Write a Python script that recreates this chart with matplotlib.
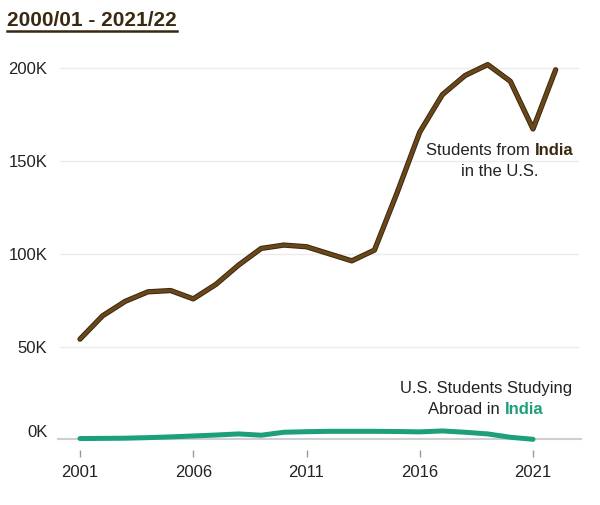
import numpy as np
import matplotlib
matplotlib.use('Agg')
import matplotlib.pyplot as plt
import matplotlib.patheffects as pe
from matplotlib.lines import Line2D
from matplotlib.offsetbox import TextArea, HPacker, VPacker, AnnotationBbox
from matplotlib.transforms import ScaledTranslation

plt.rcParams['font.family'] = ['Liberation Sans', 'DejaVu Sans']

# datos
YEARS_IN = list(range(2001, 2023))
INDIA_IN_US = [54.0, 66.6, 74.4, 79.5, 80.2, 75.7, 83.5, 93.9, 102.9, 104.7, 103.8,
               100.0, 96.2, 102.0, 132.9, 165.6, 185.8, 196.1, 202.0, 193.0, 167.3, 199.2]
YEARS_OUT = list(range(2001, 2022))
US_IN_INDIA = [0.4, 0.5, 0.6, 0.9, 1.3, 1.8, 2.3, 2.9, 2.2, 3.8, 4.1,
               4.3, 4.3, 4.3, 4.2, 4.0, 4.5, 3.8, 2.9, 1.1, 0.0]
YTICKS = [0, 50, 100, 150, 200]
XTICKS = [2001, 2006, 2011, 2016, 2021]

BROWN = '#6a4719'
BROWN_DK = '#3a2810'
TEAL = '#1c9f7a'
TXT = '#222222'

fig = plt.figure(figsize=(6, 5.05), dpi=100)
ax = fig.add_axes([57/600, 1-450/505, 525/600, 395/505])

x0 = 2001 - 23/22.65
ax.set_xlim(x0, x0 + 525/22.65)
ax.set_ylim(-(450-439.3)/1.855, 200 + (68.3-55)/1.855)

# grilla y línea base
for y in YTICKS[1:]:
    ax.axhline(y, xmin=3/525, xmax=521/525, color='#ebebeb', lw=1, zorder=0)
ax.axhline(0, color='#cfcfcf', lw=1.5, zorder=1)

# series
ax.plot(YEARS_IN, INDIA_IN_US, color=BROWN, lw=2.4, solid_capstyle='round', zorder=5,
        path_effects=[pe.Stroke(linewidth=3.8, foreground=BROWN_DK), pe.Normal()])
ax.plot(YEARS_OUT, US_IN_INDIA, color=TEAL, lw=3.6, solid_capstyle='round', zorder=4)

for s in ax.spines.values():
    s.set_visible(False)

ax.set_yticks(YTICKS)
ax.set_yticklabels(['{}K'.format(v) for v in YTICKS])
ax.set_xticks(XTICKS)
ax.set_xticklabels([str(v) for v in XTICKS])
ax.tick_params(axis='y', length=0, pad=7, labelsize=12, labelcolor=TXT)
ax.tick_params(axis='x', length=5, width=1, color='#999999', pad=6, labelsize=12, labelcolor=TXT)

# subir un poco la etiqueta 0K
lab0 = ax.yaxis.get_major_ticks()[0].label1
lab0.set_transform(lab0.get_transform() + ScaledTranslation(0, 6/72, fig.dpi_scale_trans))

# etiquetas de series
def label(lines, xy):
    rows = []
    for parts in lines:
        boxes = [TextArea(t, textprops=dict(size=12, color=c, weight=w)) for t, c, w in parts]
        rows.append(HPacker(children=boxes, align='baseline', pad=0, sep=0))
    box = VPacker(children=rows, align='center', pad=0, sep=4)
    ab = AnnotationBbox(box, xy, xycoords='figure pixels', frameon=False,
                        box_alignment=(0.5, 0.5), zorder=6)
    fig.add_artist(ab)

label([[('Students from ', TXT, 'normal'), ('India', BROWN_DK, 'bold')],
       [('in the U.S.', TXT, 'normal')]], (500, 505-161))
label([[('U.S. Students Studying', TXT, 'normal')],
       [('Abroad in ', TXT, 'normal'), ('India', TEAL, 'bold')]], (486, 505-399))

# título subrayado
title = fig.text(7/600, 1-20/505, '2000/01 - 2021/22', fontsize=15, fontweight='bold',
                 color=BROWN_DK, va='center', ha='left')
fig.canvas.draw()
bb = title.get_window_extent()
fig.add_artist(Line2D([bb.x0/600, bb.x1/600], [(505-31)/505]*2, color=BROWN_DK, lw=1.8,
                      transform=fig.transFigure))

fig.savefig('out.png', dpi=100, facecolor='white')
